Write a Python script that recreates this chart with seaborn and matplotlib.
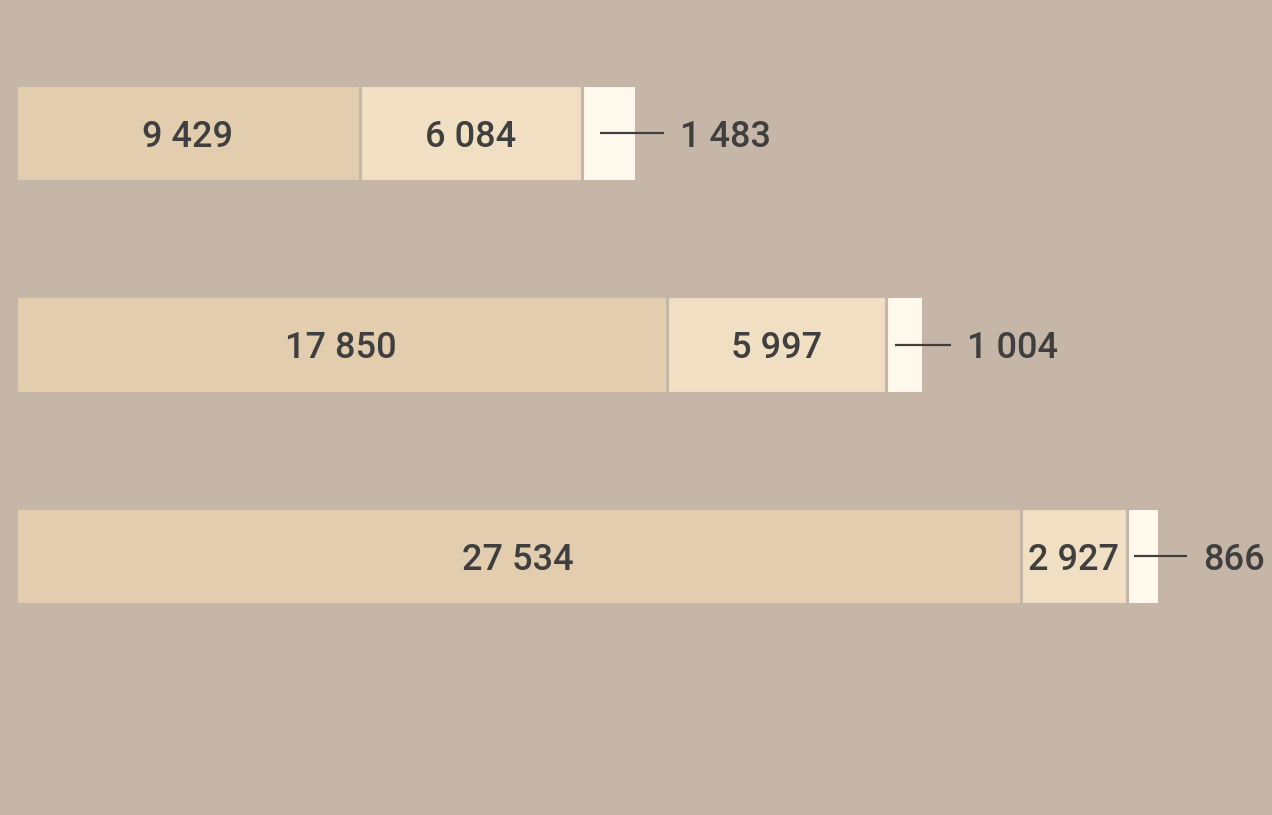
import matplotlib
matplotlib.use("Agg")
import matplotlib.pyplot as plt
import seaborn as sns
import pandas as pd
import numpy as np

categories = ["A", "B", "C"]
seg1 = [9429, 17850, 27534]
seg2 = [6084, 5997, 2927]
seg3 = [1483, 1004, 866]

BG = "#c6b6a8"
C1 = "#e3cdaf"
C2 = "#f0dfc3"
C3 = "#fff8ec"
TXT = "#3f3f3f"

sns.set_theme(style="white")
plt.rcParams["font.family"] = ["Roboto", "DejaVu Sans"]

df = pd.DataFrame({"cat": categories, "s1": seg1, "s2": seg2, "s3": seg3})
df["c2"] = df["s1"] + df["s2"]
df["c3"] = df["c2"] + df["s3"]

fig = plt.figure(figsize=(12.72, 8.15), dpi=100, facecolor=BG)
ax = fig.add_axes([0, 0, 1, 1])
ax.set_facecolor(BG)

common = dict(y="cat", order=categories, orient="h", width=0.458,
              edgecolor=BG, linewidth=2.2, ax=ax)
sns.barplot(data=df, x="c3", color=C3, saturation=1, **common)
sns.barplot(data=df, x="c2", color=C2, saturation=1, **common)
sns.barplot(data=df, x="s1", color=C1, saturation=1, **common)

def fmt(v):
    return f"{v:,}".replace(",", " ")

px = 0.0365  # px per unit
FS = 26
for i, r in df.iterrows():
    ax.text(r.s1 / 2, i, fmt(r.s1), ha="center", va="center_baseline",
            fontsize=FS, color=TXT, fontweight="medium")
    ax.text(r.s1 + r.s2 / 2, i, fmt(r.s2), ha="center", va="center_baseline",
            fontsize=FS, color=TXT, fontweight="medium")
    start = r.c2 + r.s3 / 2 - 9 / px
    end = r.c3 + 28 / px
    ax.plot([start, end], [i, i], color=TXT, lw=1.6, solid_capstyle="butt")
    ax.text(end + 16 / px, i, fmt(r.s3), ha="left", va="center_baseline",
            fontsize=FS, color=TXT, fontweight="medium")

ax.set_xlim(-425, -425 + 1272 / px)
ax.set_ylim(-0.629 + 815 / 211.5, -0.629)
ax.axis("off")

fig.savefig("out.png", dpi=100, facecolor=BG)
